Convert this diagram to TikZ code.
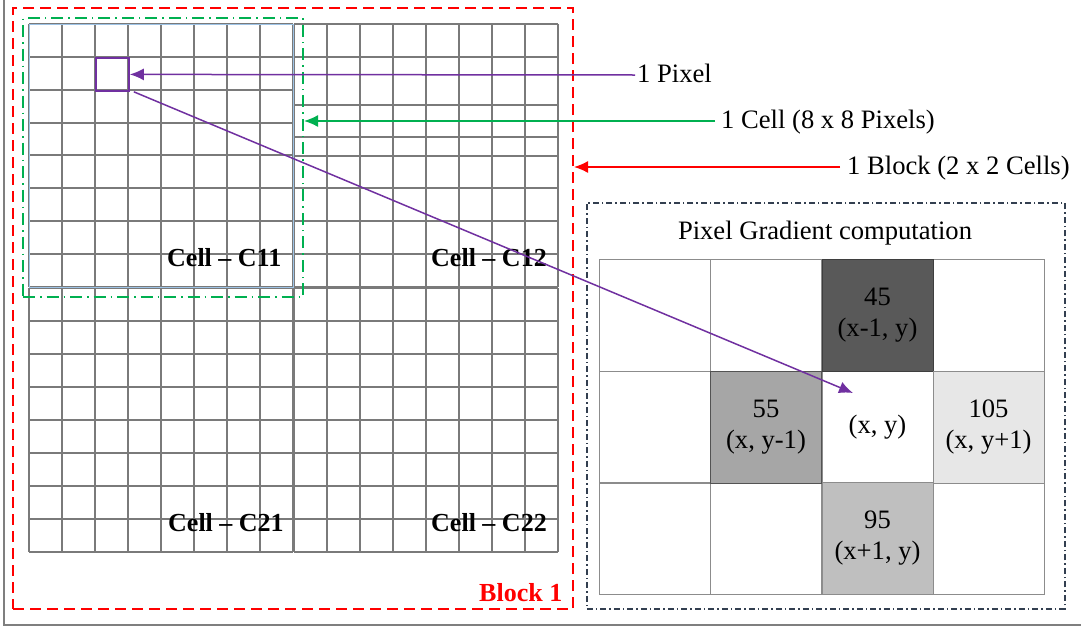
\documentclass[tikz,border=0pt]{standalone}
\usepackage{fontspec}
\setmainfont{Liberation Serif}
\usetikzlibrary{arrows.meta}
\definecolor{pur}{HTML}{7030A0}
\definecolor{grn}{HTML}{00B050}
\definecolor{redc}{HTML}{FF0000}
\definecolor{navy}{HTML}{333F50}
\definecolor{lblue}{HTML}{9DC3E6}
\definecolor{gline}{HTML}{7A7A7A}
\definecolor{tline}{HTML}{8C8C8C}
\definecolor{frame}{HTML}{7F7F7F}
\definecolor{shA}{HTML}{595959}
\definecolor{shB}{HTML}{A6A6A6}
\definecolor{shC}{HTML}{E7E7E7}
\definecolor{shD}{HTML}{BFBFBF}
\begin{document}
\begin{tikzpicture}[x=1pt,y=-1pt,
  big/.style={font=\fontsize{26.6}{31}\selectfont},
  lbl/.style={big,anchor=west,inner ysep=2pt,text height=19pt,text depth=5pt},
  celllab/.style={font=\fontsize{26}{31}\selectfont\bfseries,anchor=west,inner sep=0pt},
  gridl/.style={draw=gline,line width=1.1pt},
  box/.style={anchor=north west,inner sep=0pt,fill=none},
  tcell/.style={draw=tline,line width=0.9pt,minimum width=111pt,minimum height=112pt,inner sep=0pt,align=center,big},
  arr/.style={line width=1.5pt,-{Latex[length=14pt,width=12pt]}}
]
\useasboundingbox (0,0) rectangle (1081,627);
% outer frame
\draw[frame,line width=1.5pt] (4,0) -- (4,625) -- (1081,625);
% grids
\foreach \x in {29,62,95,128,161,194,227,260,293} {
  \draw[gridl] (\x,24) -- (\x,287);
  \draw[gridl] (\x,288) -- (\x,552);}
\foreach \x in {294,327,360,393,426,459,492,525,558} {
  \draw[gridl] (\x,24) -- (\x,287);
  \draw[gridl] (\x,288) -- (\x,552);}
\foreach \y in {24,57,90,123,155,188,221,254,287}
  \draw[gridl] (29,\y) -- (293,\y);
\foreach \y in {24,57,105,137,156,188,221,254,287}
  \draw[gridl] (294,\y) -- (558,\y);
\foreach \y in {288,321,354,387,420,453,486,519,552} {
  \draw[gridl] (29,\y) -- (293,\y);
  \draw[gridl] (294,\y) -- (558,\y);}
% boxes
\node[box,draw=lblue,line width=1.2pt,minimum width=264pt,minimum height=263pt] (c11box) at (29,24) {};
\node[box,draw=grn,line width=2pt,dash pattern=on 12pt off 5pt on 1.5pt off 5pt,minimum width=280pt,minimum height=279pt] (cellbox) at (22,17) {};
\node[box,draw=redc,line width=2pt,dash pattern=on 11pt off 6pt,minimum width=560pt,minimum height=601pt] (blockbox) at (12,7) {};
\node[box,draw=navy,line width=1.5pt,dash pattern=on 6pt off 3pt on 1.5pt off 3pt,minimum width=478pt,minimum height=406pt] (panel) at (586,202) {};
% pixel
\node[box,draw=pur,line width=1.8pt,minimum width=33pt,minimum height=33pt] (px) at (95,57) {};
% cell labels
\node[celllab] (l11) at (167,258) {Cell – C11};
\node[celllab] (l12) at (431,258) {Cell – C12};
\node[celllab] (l21) at (168,523) {Cell – C21};
\node[celllab] (l22) at (431,523) {Cell – C22};
\node[celllab,text=redc] (lb1) at (479,593) {Block 1};
% right labels
\node[lbl,inner xsep=2pt] (pixlbl) at (635,75) {1 Pixel};
\node[lbl,inner xsep=6pt] (celllbl) at (715,121) {1 Cell (8 x 8 Pixels)};
\node[lbl,inner xsep=7pt] (blocklbl) at (840,167) {1 Block (2 x 2 Cells)};
% panel
\node[big] (ptitle) at (825,233) {Pixel Gradient computation};
\node[tcell] (t00) at (654.5,315) {};
\node[tcell] (t01) at (766,315) {};
\node[tcell] (t03) at (988.5,315) {};
\node[tcell] (t10) at (654.5,427) {};
\node[tcell] (t12) at (877.5,427) {(x, y)};
\node[tcell] (t20) at (654.5,538.5) {};
\node[tcell] (t21) at (766,538.5) {};
\node[tcell] (t23) at (988.5,538.5) {};
\node[tcell,fill=shA,draw=shA!70!black] (t02) at (877.5,315) {45\\(x-1, y)};
\node[tcell,fill=shB,draw=shB!50!black] (t11) at (766,427) {55\\(x, y-1)};
\node[tcell,fill=shC] (t13) at (988.5,427) {105\\(x, y+1)};
\node[tcell,fill=shD] (t22) at (877.5,538.5) {95\\(x+1, y)};
% arrows
\coordinate (tip) at (853,393);
\draw[arr,pur] (pixlbl.west) -- (px.east);
\draw[arr,pur] ([xshift=4pt]px.south east) -- (tip);
\draw[arr,grn] (celllbl.west) -- (celllbl.west -| cellbox.east);
\draw[arr,redc] (blocklbl.west) -- (blocklbl.west -| blockbox.east);
\end{tikzpicture}
\end{document}
